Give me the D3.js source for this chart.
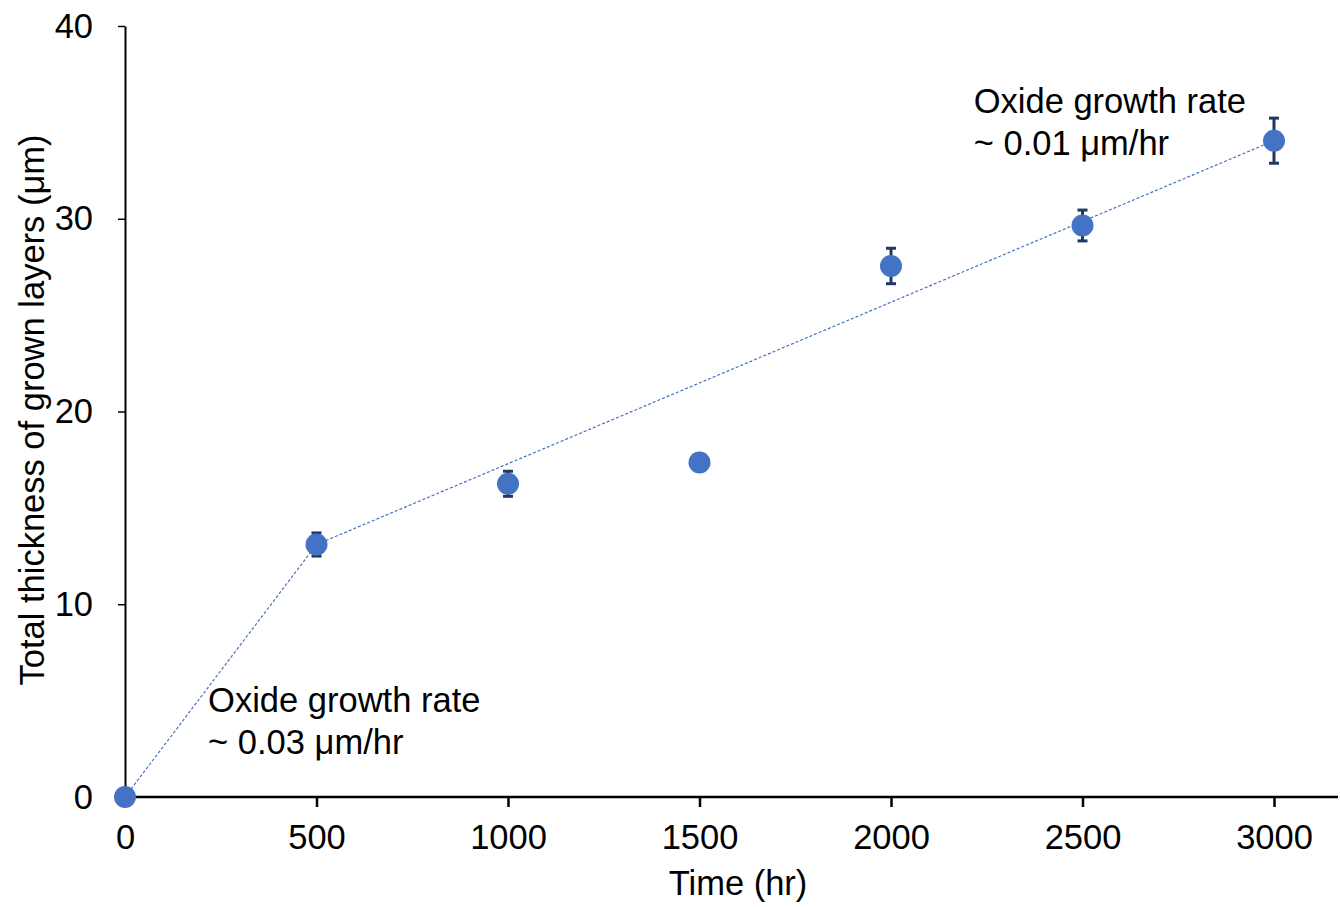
<!DOCTYPE html>
<html>
<head>
<meta charset="utf-8">
<script src="https://cdn.jsdelivr.net/npm/d3@7"></script>
<style>
  body { margin: 0; background: #fff; }
  text { font-family: "Liberation Sans", Arial, sans-serif; }
</style>
</head>
<body>
<svg id="chart" width="1340" height="907"></svg>
<script>
// data
const times = [0, 500, 1000, 1500, 2000, 2500, 3000];
const thickness = [0, 13.1, 16.25, 17.35, 27.55, 29.65, 34.05];
const errors = [0, 0.6, 0.65, 0.3, 0.92, 0.8, 1.17];
const xTicks = [0, 500, 1000, 1500, 2000, 2500, 3000];
const yTicks = [0, 10, 20, 30, 40];
// trend segments: [t0, v0, t1, v1]
const trends = [
  [0, 0, 500, 13.1],
  [500, 13.1, 3000, 34.05]
];
const notes = [
  { t: 217, v: 4.4, lines: ['Oxide growth rate', '~ 0.03 μm/hr'] },
  { t: 2216, v: 35.5, lines: ['Oxide growth rate', '~ 0.01 μm/hr'] }
];

const svg = d3.select('#chart');
const padLeft = 125, padRight = 1338, padTop = 26, padBottom = 797;
const fs = 34.5;

const x = d3.scaleLinear().domain([0, 3000]).range([padLeft, 1274]);
const y = d3.scaleLinear().domain([0, 40]).range([padBottom, padTop]);

// x axis
const xAxisG = svg.append('g')
  .attr('transform', 'translate(0,' + padBottom + ')')
  .call(d3.axisBottom(x).tickValues(xTicks).tickFormat(d3.format('d'))
    .tickSize(10).tickSizeOuter(0).tickPadding(18));
xAxisG.select('.domain').attr('d', 'M' + padLeft + ',0H' + padRight).attr('stroke-width', 2.5);
xAxisG.selectAll('.tick line').attr('stroke-width', 2.5);
xAxisG.selectAll('.tick text').attr('font-size', fs).attr('fill', '#000');

// y axis
const yAxisG = svg.append('g')
  .attr('transform', 'translate(' + padLeft + ',0)')
  .call(d3.axisLeft(y).tickValues(yTicks).tickSize(7).tickSizeOuter(0).tickPadding(25));
yAxisG.select('.domain').attr('stroke-width', 2);
yAxisG.selectAll('.tick line').attr('stroke-width', 1.5);
yAxisG.selectAll('.tick text').attr('font-size', fs).attr('fill', '#000');

// axis titles
svg.append('text')
  .attr('x', 738).attr('y', 895)
  .attr('text-anchor', 'middle').attr('font-size', fs)
  .text('Time (hr)');
svg.append('text')
  .attr('transform', 'translate(44,410) rotate(-90)')
  .attr('text-anchor', 'middle').attr('font-size', fs)
  .text('Total thickness of grown layers (μm)');

// trend lines
svg.selectAll('line.trend')
  .data(trends)
  .enter().append('line')
  .attr('class', 'trend')
  .attr('x1', d => x(d[0])).attr('y1', d => y(d[1]))
  .attr('x2', d => x(d[2])).attr('y2', d => y(d[3]))
  .attr('stroke', '#4472c4')
  .attr('stroke-width', 1.2)
  .attr('stroke-dasharray', '3,2');

const pts = times.map((t, i) => ({ t: t, v: thickness[i], e: errors[i] }));

// error bars
const eb = svg.selectAll('g.err')
  .data(pts.filter(d => d.e > 0))
  .enter().append('g').attr('class', 'err')
  .attr('stroke', '#203864').attr('stroke-width', 3);
eb.append('line')
  .attr('x1', d => x(d.t)).attr('x2', d => x(d.t))
  .attr('y1', d => y(d.v + d.e)).attr('y2', d => y(d.v - d.e));
eb.append('line')
  .attr('x1', d => x(d.t) - 5).attr('x2', d => x(d.t) + 5)
  .attr('y1', d => y(d.v + d.e)).attr('y2', d => y(d.v + d.e));
eb.append('line')
  .attr('x1', d => x(d.t) - 5).attr('x2', d => x(d.t) + 5)
  .attr('y1', d => y(d.v - d.e)).attr('y2', d => y(d.v - d.e));

// points
svg.selectAll('circle.pt')
  .data(pts)
  .enter().append('circle')
  .attr('class', 'pt')
  .attr('cx', d => x(d.t)).attr('cy', d => y(d.v))
  .attr('r', 11)
  .attr('fill', '#4472c4');

// annotations
notes.forEach(n => {
  const tx = svg.append('text')
    .attr('x', x(n.t)).attr('y', y(n.v))
    .attr('font-size', fs).attr('fill', '#000');
  n.lines.forEach((l, i) => {
    tx.append('tspan').attr('x', x(n.t)).attr('dy', i === 0 ? 0 : 42).text(l);
  });
});
</script>
</body>
</html>
